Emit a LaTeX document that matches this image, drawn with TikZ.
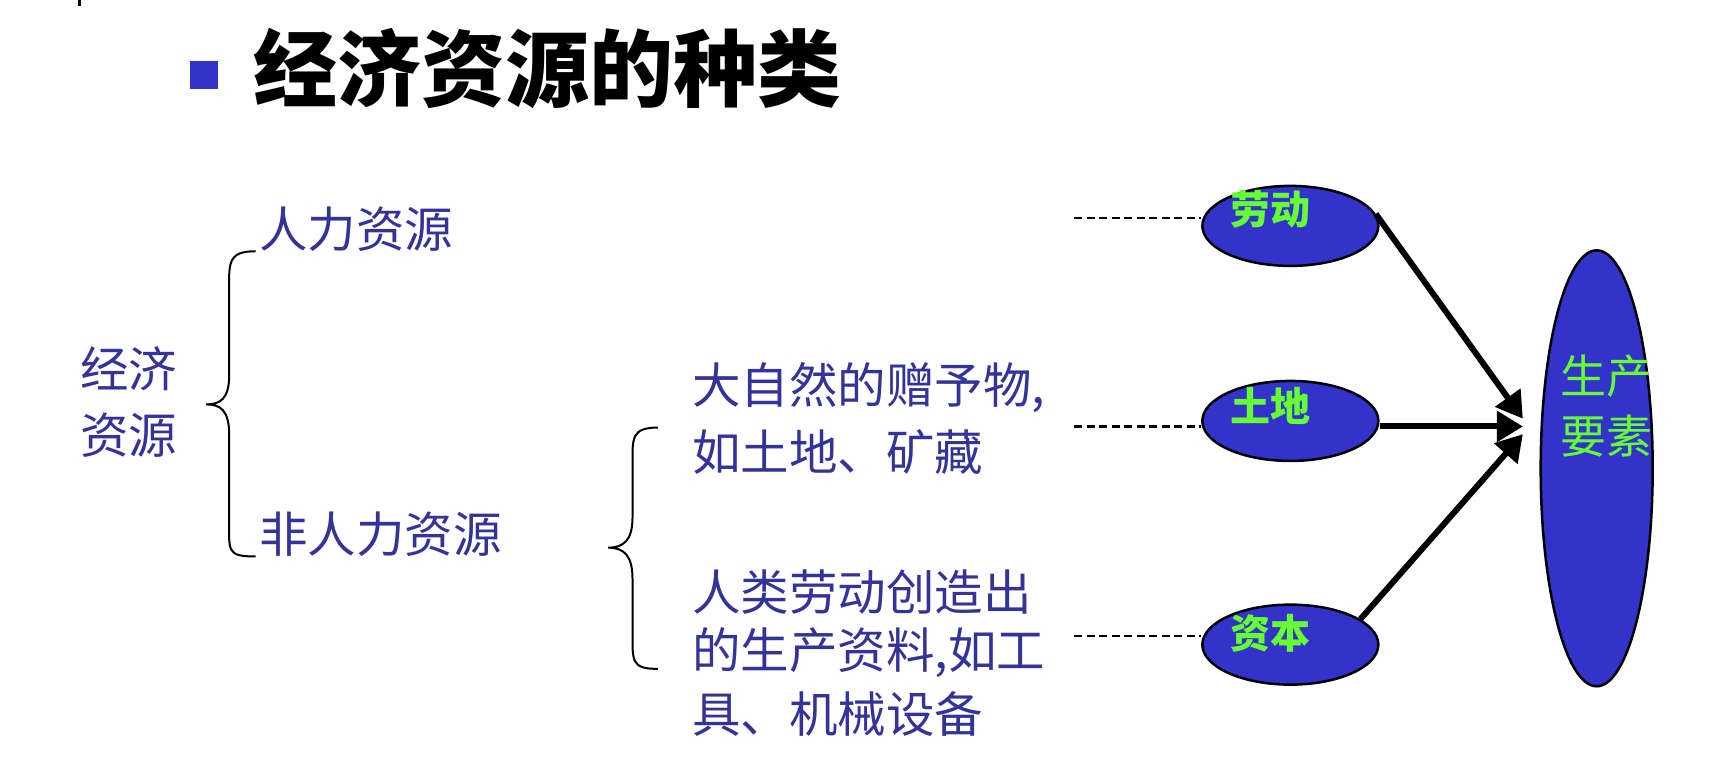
\documentclass[tikz,border=0pt]{standalone}
\usepackage{fontspec}
\setmainfont{Noto Sans CJK SC}
\usetikzlibrary{arrows.meta,shapes.geometric}
\definecolor{tblue}{HTML}{333399}
\definecolor{fblue}{HTML}{3333CC}
\definecolor{tgreen}{HTML}{66FF33}
\tikzset{
  body/.style={text=tblue,font=\fontsize{48.5}{66}\selectfont,align=left,inner sep=0pt},
  oval/.style={ellipse,draw=black,line width=2.5pt,fill=fblue},
  olab/.style={text=tgreen,font=\fontsize{40}{44}\selectfont\bfseries,inner sep=0pt},
  dline/.style={line width=2.4pt,dash pattern=on 8pt off 4.5pt},
  arr/.style={line width=6pt,-{Triangle[length=26pt,width=30pt]}},
  brace/.style={line width=2pt}
}
\begin{document}
\begin{tikzpicture}[x=1.102pt,y=-1.102pt]
\useasboundingbox (0,0) rectangle (1560,696);
\draw[line width=3pt] (72,0) -- (72,5);
\fill[fblue] (172,55) rectangle (198,81);
\node[anchor=west,inner sep=0pt,font=\fontsize{84}{88}\selectfont\bfseries] (title) at (230,62) {经济资源的种类};
\node[body] (jj) at (117,365) {经济\\资源};
\draw[brace] (232,228) .. controls (205,228) and (208,240) .. (208,270) -- (208,340) .. controls (208,362) and (200,367) .. (187,367) .. controls (200,367) and (208,372) .. (208,395) -- (208,470) .. controls (208,500) and (205,505) .. (232,505);
\node[body,anchor=west] (rl) at (235,208) {人力资源};
\node[body,anchor=west] (frl) at (235,485) {非人力资源};
\draw[brace] (597,388) .. controls (573,388) and (574,398) .. (574,420) -- (574,470) .. controls (574,490) and (566,497) .. (552,497) .. controls (566,497) and (574,504) .. (574,525) -- (574,575) .. controls (574,600) and (573,607) .. (597,607);
\node[body,anchor=west] (nat1) at (628,352) {大自然的赠予物,};
\node[body,anchor=west] (nat2) at (628,410) {如土地、矿藏};
\node[body,anchor=west] (h1) at (628,537) {人类劳动创造出};
\node[body,anchor=west] (h2) at (628,592) {的生产资料,如工};
\node[body,anchor=west] (h3) at (628,648) {具、机械设备};
\node[oval,minimum width=176pt,minimum height=80pt] (ld) at (1171,205) {};
\node[oval,minimum width=176pt,minimum height=80pt] (td) at (1171,382) {};
\node[oval,minimum width=176pt,minimum height=80pt] (zb) at (1171,585) {};
\node[olab] at (1153,190) {劳动};
\node[olab] at (1153,368) {土地};
\node[olab] at (1153,575) {资本};
\node[oval,minimum width=112pt,minimum height=436pt] (sc) at (1449,425) {};
\node[text=tgreen,font=\fontsize{46}{60}\selectfont,align=left,inner sep=0pt] at (1458,368) {生产\\要素};
\coordinate (d1) at (975,198); \coordinate (d2) at (975,387); \coordinate (d3) at (975,577);
\draw[dline] (d1) -- (ld.west|-d1);
\draw[dline] (d2) -- (td.west|-d2);
\draw[dline] (d3) -- (zb.west|-d3);
\coordinate (t1) at (1382,380); \coordinate (t2) at (1382,387); \coordinate (t3) at (1382,394);
\draw[arr] (ld.8) -- (t1);
\draw[arr] (td.east|-t2) -- (t2);
\draw[arr] (zb.20) -- (t3);
\end{tikzpicture}
\end{document}
